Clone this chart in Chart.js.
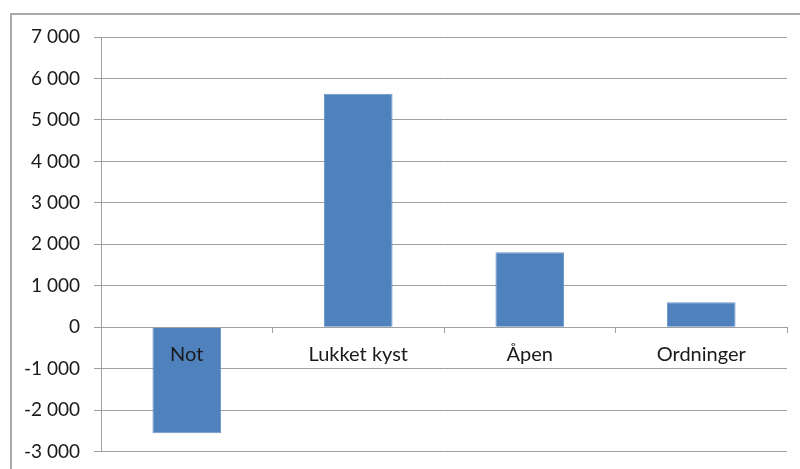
<!DOCTYPE html>
<html>
<head>
<meta charset="utf-8">
<script src="https://cdn.jsdelivr.net/npm/chart.js@4/dist/chart.umd.min.js"></script>
<style>
  html, body { margin: 0; padding: 0; background: #fff; overflow: hidden; }
  #wrap { position: relative; width: 800px; height: 469px; overflow: hidden; }
  #frame { position: absolute; left: 10px; top: 13px; width: 900px; height: 600px; border: 2px solid #a9a9a9; box-sizing: border-box; }
  #holder { position: absolute; left: 0; top: 0; width: 800px; height: 477px; }
</style>
</head>
<body>
<div id="wrap">
  <div id="frame"></div>
  <div id="holder"><canvas id="chart"></canvas></div>
</div>
<script>
// kategorier og verdier
const kategorier = ['Not', 'Lukket kyst', 'Åpen', 'Ordninger']
const verdier = [-2560, 5630, 1810, 600]
const yMin = -3000
const yMax = 7000
const ySteg = 1000

const fmt = v => {
  const s = Math.abs(v).toString().replace(/\B(?=(\d{3})+(?!\d))/g, ' ')
  return (v < 0 ? '-' : '') + s
}

const ctx = document.getElementById('chart').getContext('2d')
const chart = new Chart(ctx, {
  type: 'bar',
  data: {
    labels: kategorier,
    datasets: [{
      data: verdier,
      backgroundColor: '#4f81bd',
      borderColor: '#6d95c9',
      borderWidth: 1,
      barPercentage: 0.4,
      categoryPercentage: 1
    }]
  },
  options: {
    responsive: true,
    maintainAspectRatio: false,
    animation: false,
    layout: { padding: { left: 0, right: 13, top: 37, bottom: 18 } },
    plugins: { legend: { display: false }, tooltip: { enabled: false } },
    scales: {
      x: {
        position: { y: 0 },
        offset: true,
        grid: { offset: true, drawOnChartArea: false, drawTicks: true, tickLength: 5, color: '#a0a0a0' },
        border: { display: true, color: '#a0a0a0' },
        ticks: { z: 1, color: '#1a1a1a', padding: 10, font: { family: 'Lato', size: 20 }, maxRotation: 0 }
      },
      y: {
        min: yMin,
        max: yMax,
        afterFit: s => { s.width = 101 },
        ticks: { stepSize: ySteg, color: '#1a1a1a', padding: 14, font: { family: 'Lato', size: 19 }, callback: v => fmt(v) },
        grid: { color: '#a0a0a0', tickLength: 7 },
        border: { display: true, color: '#a0a0a0' }
      }
    }
  }
})
</script>
</body>
</html>
